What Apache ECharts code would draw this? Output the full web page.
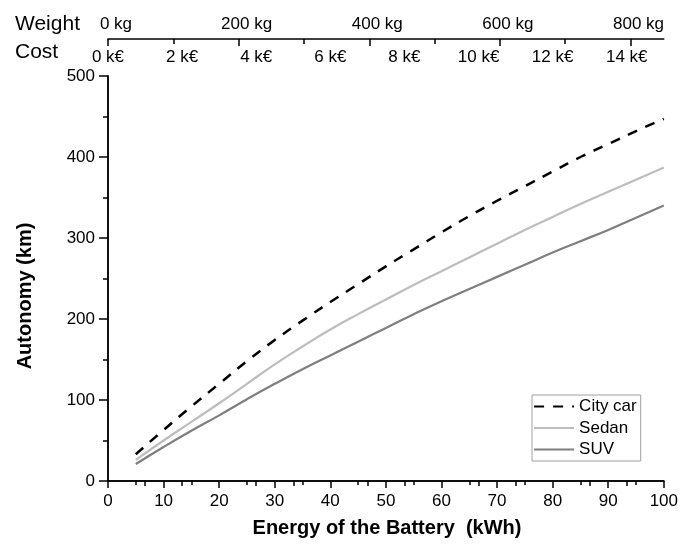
<!DOCTYPE html>
<html>
<head>
<meta charset="utf-8">
<script src="https://cdn.jsdelivr.net/npm/echarts@6/dist/echarts.min.js"></script>
<style>html,body{margin:0;padding:0;background:#fff}#c{width:681px;height:544px}</style>
</head>
<body>
<div id="c"></div>
<script>
// Battery energy (kWh)
const energy = [5,10,15,20,25,30,35,40,45,50,55,60,65,70,75,80,85,90,95,100];
// Autonomy (km)
const cityCar = [33,63,92,120,148,174,198,221,243,265,286,307,327,346,364,382,400,416,432,447];
const sedan   = [26,50,73,96,120,144,166,187,206,224,242,259,276,293,310,326,342,357,372,387];
const suv     = [21,42,62,81,101,120,138,155,172,189,206,222,237,252,267,282,296,310,325,340];
const seriesNames = ['City car','Sedan','SUV'];
// Top axes
const costMax = 15;          // k€ at 100 kWh
const weightMax = 851;       // kg at 100 kWh
const weightMajor = [0,200,400,600,800];
const weightMinor = [100,300,500,700];

const FONT = 'Liberation Sans, Arial, Helvetica, sans-serif';
const chart = echarts.init(document.getElementById('c'));
const lineAxis = {show:true, lineStyle:{color:'#000', width:1.5}};
const pairs = arr => energy.map((e,i)=>[e, arr[i]]);

chart.setOption({
  animation:false,
  backgroundColor:'#fff',
  textStyle:{fontFamily:FONT},
  grid:{left:108, right:14, top:76, bottom:63, containLabel:false},
  legend:{
    orient:'vertical', left:532, top:395,
    data:seriesNames,
    backgroundColor:'#fff',
    borderColor:'#a0a0a0', borderWidth:1,
    padding:[3,4,3,1],
    itemWidth:40, itemHeight:14, itemGap:4.5,
    itemStyle:{opacity:0},
    lineStyle:{width:2.2},
    textStyle:{fontSize:17, color:'#000', fontFamily:FONT}
  },
  xAxis:[
    { type:'value', position:'bottom', min:0, max:100, interval:10,
      axisLine:lineAxis,
      axisTick:{show:true, inside:false, length:7, lineStyle:{color:'#000', width:1.5}},
      minorTick:{show:true, splitNumber:2, length:4, lineStyle:{color:'#000', width:1.5}},
      splitLine:{show:false},
      axisLabel:{fontSize:17, color:'#000', margin:12, fontFamily:FONT}
    },
    { type:'value', position:'top', min:0, max:costMax, interval:1,
      axisLine:lineAxis,
      axisTick:{show:true, inside:true, length:5, lineStyle:{color:'#000', width:1.5}},
      splitLine:{show:false},
      axisLabel:{fontSize:17, color:'#000', margin:10, fontFamily:FONT,
        formatter: v => (v % 2 === 0 ? v + ' k€' : '')}
    },
    { type:'value', position:'top', offset:37, min:0, max:weightMax, interval:100,
      axisLine:lineAxis,
      axisTick:{show:true, inside:true, length:7, customValues:weightMajor, lineStyle:{color:'#000', width:1.5}},
      splitLine:{show:false},
      axisLabel:{fontSize:17, color:'#000', margin:6, fontFamily:FONT, padding:[0,0,0,16],
        customValues:weightMajor, formatter: v => v + ' kg'}
    },
    { type:'value', position:'top', offset:37, min:0, max:weightMax, interval:100,
      axisLine:{show:false},
      axisTick:{show:true, inside:true, length:5, customValues:weightMinor, lineStyle:{color:'#000', width:1.5}},
      splitLine:{show:false},
      axisLabel:{show:false}
    }
  ],
  yAxis:[
    { type:'value', position:'left', min:0, max:500, interval:100,
      axisLine:lineAxis,
      axisTick:{show:true, inside:false, length:9, lineStyle:{color:'#000', width:1.5}},
      minorTick:{show:true, splitNumber:2, length:5, lineStyle:{color:'#000', width:1.5}},
      splitLine:{show:false},
      axisLabel:{fontSize:17, color:'#000', margin:13, fontFamily:FONT}
    },
    { type:'value', position:'right', min:0, max:500, interval:100,
      axisLine:lineAxis, axisTick:{show:false}, axisLabel:{show:false}, splitLine:{show:false}
    }
  ],
  graphic:[
    {type:'text', left:15, top:14, style:{text:'Weight', fontSize:21, fill:'#000', fontFamily:FONT}},
    {type:'text', left:15, top:42, style:{text:'Cost', fontSize:21, fill:'#000', fontFamily:FONT}},
    {type:'text', x:387, y:528, style:{text:'Energy of the Battery  (kWh)', fontSize:20, fontWeight:'bold',
      fill:'#000', fontFamily:FONT, align:'center', verticalAlign:'middle'}},
    {type:'text', x:25, y:296, rotation:Math.PI/2, style:{text:'Autonomy (km)', fontSize:20, fontWeight:'bold',
      fill:'#000', fontFamily:FONT, align:'center', verticalAlign:'middle'}}
  ],
  series:[
    { name:seriesNames[0], type:'line', xAxisIndex:0, yAxisIndex:0, data:pairs(cityCar),
      smooth:true, symbol:'none', lineStyle:{color:'#000', width:2.5, type:[10,9]}, itemStyle:{color:'#000'} },
    { name:seriesNames[1], type:'line', xAxisIndex:0, yAxisIndex:0, data:pairs(sedan),
      smooth:true, symbol:'none', lineStyle:{color:'#bdbdbd', width:2.2}, itemStyle:{color:'#bdbdbd'} },
    { name:seriesNames[2], type:'line', xAxisIndex:0, yAxisIndex:0, data:pairs(suv),
      smooth:true, symbol:'none', lineStyle:{color:'#7f7f7f', width:2.2}, itemStyle:{color:'#7f7f7f'} }
  ]
});
</script>
</body>
</html>
